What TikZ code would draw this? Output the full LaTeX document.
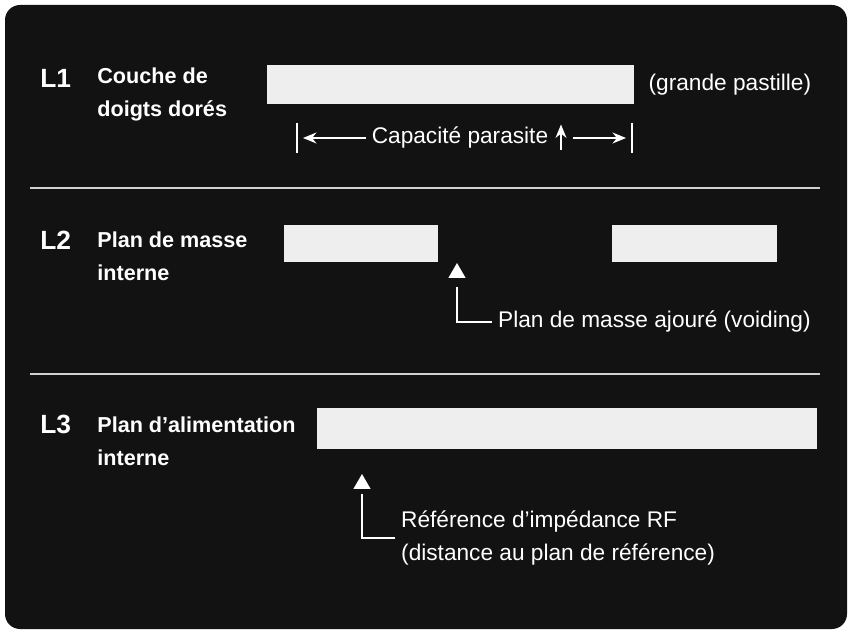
\documentclass[tikz,border=0pt]{standalone}
\usepackage{fontspec}
\setmainfont{Liberation Sans}
\usetikzlibrary{positioning,arrows.meta,shapes.geometric}

\definecolor{panel}{HTML}{121212}
\definecolor{padfill}{HTML}{EEEEEE}
\definecolor{rulecol}{HTML}{D0D0D0}

\tikzset{
  layer/.style={font=\bfseries\fontsize{15}{18}\selectfont, text=white, inner sep=0pt, anchor=west},
  layername/.style={font=\bfseries\fontsize{12.3}{18.7}\selectfont, text=white, inner sep=0pt, anchor=west, align=left},
  note/.style={font=\fontsize{12.9}{18.7}\selectfont, text=white, align=left},
  pad/.style={fill=padfill, draw=none, inner sep=0pt},
  marker/.style={regular polygon, regular polygon sides=3, fill=white, inner sep=0pt, minimum size=0.4cm},
  dimarrow/.style={white, line width=0.8pt, -{Stealth[length=0.27cm,width=0.22cm]}},
  link/.style={white, line width=0.8pt},
}

\begin{document}
\begin{tikzpicture}[x=0.02cm,y=-0.02cm]
            % frame
            \useasboundingbox (0,0) rectangle (852,634);
            \fill[white] (0,0) rectangle (852,634);
            \fill[panel, rounded corners=0.3cm] (5,5) rectangle (847,629);

            % L1 : gold fingers
            \node[layer] (l1) at (40,78) {L1};
            \node[layername] (l1name) at (97,94.5) {Couche de\\doigts dorés};
            \node[pad, minimum width=7.34cm, minimum height=0.78cm] (pad1) at (450.5,84.5) {};
            \node[note, inner sep=0pt, right=0.28cm of pad1] (bigpad) {(grande pastille)};

            % parasitic capacitance
            \coordinate (dimL) at (297,138);
            \coordinate (dimR) at (632,138);
            \coordinate (capmid) at (561,138);
            \draw[link] ([yshift=0.3cm]dimL) -- ([yshift=-0.3cm]dimL);
            \draw[link] ([yshift=0.3cm]dimR) -- ([yshift=-0.3cm]dimR);
            \node[note] (cap) at (460,138) {Capacité parasite};
            \draw[dimarrow, shorten >=0.12cm] (cap.west) -- (dimL);
            \draw[dimarrow] ([yshift=-0.24cm]capmid) -- ([yshift=0.27cm]capmid);
            \draw[dimarrow, shorten <=0.24cm, shorten >=0.12cm] (capmid) -- (dimR);

            % separator
            \coordinate (sep1a) at (30,188);
            \coordinate (sep1b) at (820,188);
            \draw[rulecol, line width=1.3pt] (sep1a) -- (sep1b);

            % L2 : ground plane
            \node[layer] (l2) at (40,240) {L2};
            \node[layername] (l2name) at (97,256.5) {Plan de masse\\interne};
            \node[pad, minimum width=3.08cm, minimum height=0.74cm] (pad2a) at (361,243.5) {};
            \node[pad, minimum width=3.3cm, minimum height=0.74cm] (pad2b) at (694.5,243.5) {};
            \node[marker] (tri2) at (457,273) {};
            \node[note, anchor=west] (voidnote) at (492,322) {Plan de masse ajouré (voiding)};
            \draw[link, shorten <=0.18cm] (tri2.south) |- (voidnote.west);

            % separator
            \coordinate (sep2a) at (30,374);
            \coordinate (sep2b) at (820,374);
            \draw[rulecol, line width=1.3pt] (sep2a) -- (sep2b);

            % L3 : power plane
            \node[layer] (l3) at (40,424) {L3};
            \node[layername] (l3name) at (97,441.5) {Plan d’alimentation\\interne};
            \node[pad, minimum width=10cm, minimum height=0.82cm] (pad3) at (567,428.5) {};
            \node[marker] (tri3) at (362,484) {};
            \node[note, anchor=west] (refnote) at (395,538) {Référence d’impédance RF\\(distance au plan de référence)};
            \draw[link, shorten <=0.1cm] (tri3.south) |- (refnote.west);

        \end{tikzpicture}
\end{document}
